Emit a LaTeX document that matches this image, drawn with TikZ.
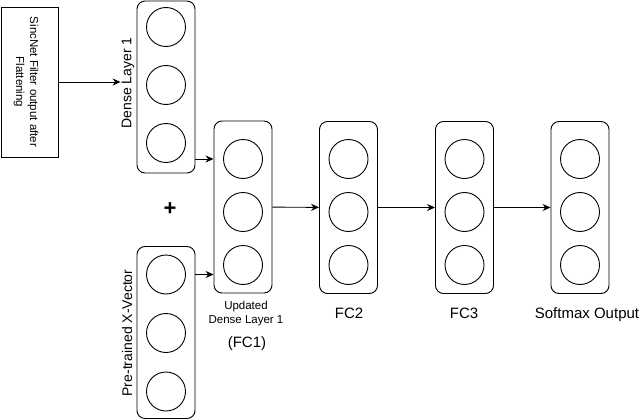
\documentclass[tikz,border=0pt]{standalone}
\usepackage{fontspec}
\setmainfont{Liberation Sans}
\usetikzlibrary{arrows.meta}

\tikzset{
  layer/.style={draw, rounded corners=8pt, minimum width=58pt, minimum height=172pt, line width=0.9pt},
  neuron/.style={draw, circle, minimum size=39pt, inner sep=0pt, line width=0.9pt},
  link/.style={-{Stealth[length=8pt,width=7pt]}, line width=0.9pt},
  biglab/.style={font=\fontsize{15}{17}\selectfont},
  midlab/.style={font=\fontsize{14}{16}\selectfont},
  smalllab/.style={font=\fontsize{11.5}{14}\selectfont, align=center},
}

\begin{document}
\begin{tikzpicture}[x=1pt, y=-1pt]
  \useasboundingbox (0,0) rectangle (640,420);

  % input block
  \node[draw, line width=0.9pt, minimum width=57pt, minimum height=150pt] (input) at (30,82) {};
  \node[smalllab, rotate=-90] (inputtext) at (26,82) {SincNet Filter output after\\Flattening};

  % layers: name / x / box y / circle y / gap
  \foreach \name/\x/\by/\cy/\gap in {dense1/166/87/85/58, pre/166/332.5/333/58.5,
      fc1/243/207/212/53, fc2/348.5/207.5/212/53, fc3/464.5/207.5/212/53, out/580/207.5/212/53} {
    \node[layer] (\name) at (\x,\by) {};
    \node[neuron] (\name-1) at (\x,\cy-\gap) {};
    \node[neuron] (\name-2) at (\x,\cy) {};
    \node[neuron] (\name-3) at (\x,\cy+\gap) {};
  }

  % labels
  \node[midlab, rotate=90, inner sep=1pt] (dense1lab) at (128,83) {Dense Layer 1};
  \node[midlab, rotate=90] (prelab) at (127,333) {Pre-trained X-Vector};
  \node[font=\bfseries\fontsize{22}{22}\selectfont] (plus) at (170,209) {+};
  \node[smalllab] (fc1lab) at (246,314) {Updated\\Dense Layer 1};
  \node[biglab] (fc1name) at (247,344) {(FC1)};
  \node[biglab] (fc2lab) at (349,313) {FC2};
  \node[biglab] (fc3lab) at (464,313) {FC3};
  \node[biglab] (outlab) at (587,315) {Softmax Output};

  % connections
  \draw[link] (input.east) -- (input.east -| dense1lab.north);
  \draw[link] (fc1-1 -| dense1.east) -- (fc1-1 -| fc1.west);
  \draw[link] (pre-1 -| pre.east) -- (pre-1 -| fc1.west);
  \draw[link] (fc1) -- (fc2);
  \draw[link] (fc2) -- (fc3);
  \draw[link] (fc3) -- (out);
\end{tikzpicture}
\end{document}
